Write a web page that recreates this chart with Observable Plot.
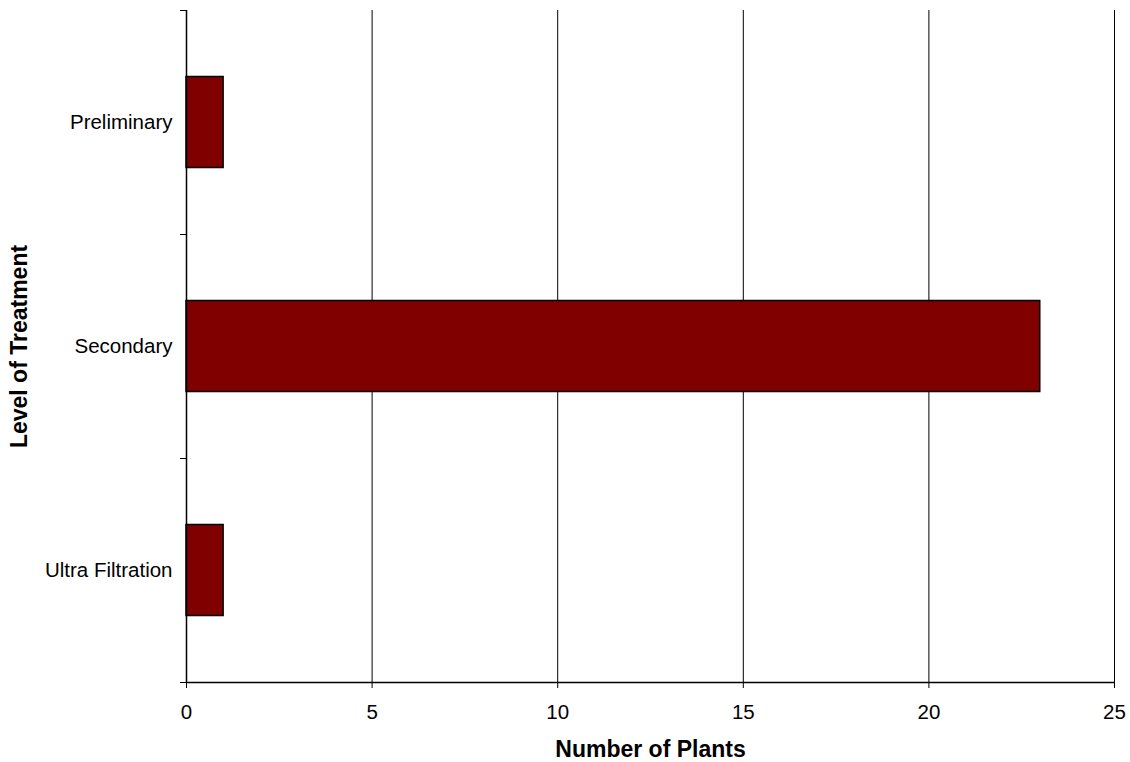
<!DOCTYPE html>
<html>
<head>
<meta charset="utf-8">
<script src="https://cdn.jsdelivr.net/npm/d3@7"></script>
<script src="https://cdn.jsdelivr.net/npm/@observablehq/plot@0.6"></script>
<style>
  html, body { margin: 0; padding: 0; background: #fff; }
</style>
</head>
<body>
<div id="chart"></div>
<script>
const categories = ["Preliminary", "Secondary", "Ultra Filtration"];
const values = [1, 23, 1];
const xTicks = [0, 5, 10, 15, 20, 25];
const xLabel = "Number of Plants";
const yLabel = "Level of Treatment";

const data = categories.map((c, i) => ({category: c, index: i, value: values[i]}));
const bandEdges = d3.range(categories.length + 1);
const bandCenters = categories.map((c, i) => i + 0.5);

const chart = Plot.plot({
  width: 1130,
  height: 762,
  marginLeft: 186,
  marginRight: 16,
  marginTop: 10,
  marginBottom: 80,
  style: {fontFamily: "'Liberation Sans', Arial, sans-serif", fontSize: "20px", background: "#fff", color: "#000"},
  x: {domain: [0, 25]},
  y: {domain: [0, categories.length], reverse: true},
  marks: [
    Plot.ruleX(xTicks.filter(t => t > 0), {stroke: "#000", strokeWidth: 1}),
    Plot.rectX(data, {
      x1: 0, x2: "value",
      y1: "index", y2: d => d.index + 1,
      insetTop: 66.5, insetBottom: 66.5,
      fill: "#800000", stroke: "#000", strokeWidth: 1.5
    }),
    Plot.ruleX([0], {stroke: "#000", strokeWidth: 1.5}),
    Plot.ruleY([categories.length], {stroke: "#000", strokeWidth: 1.5}),
    Plot.axisX({ticks: xTicks, tickSize: 6, tickPadding: 16, fontSize: 20.5, label: null}),
    Plot.axisX({ticks: [], label: xLabel, labelAnchor: "center", labelArrow: "none", labelOffset: 74, fontSize: 23, fontWeight: "bold"}),
    Plot.axisY({ticks: bandEdges, tickSize: 6, tickFormat: () => "", label: null}),
    Plot.axisY({ticks: bandCenters, tickSize: 0, tickPadding: 14, tickFormat: v => categories[Math.floor(v)], fontSize: 20.5, label: null}),
    Plot.axisY({ticks: [], label: yLabel, labelAnchor: "center", labelArrow: "none", labelOffset: 176, fontSize: 23, fontWeight: "bold"})
  ]
});
document.getElementById("chart").appendChild(chart);
</script>
</body>
</html>
